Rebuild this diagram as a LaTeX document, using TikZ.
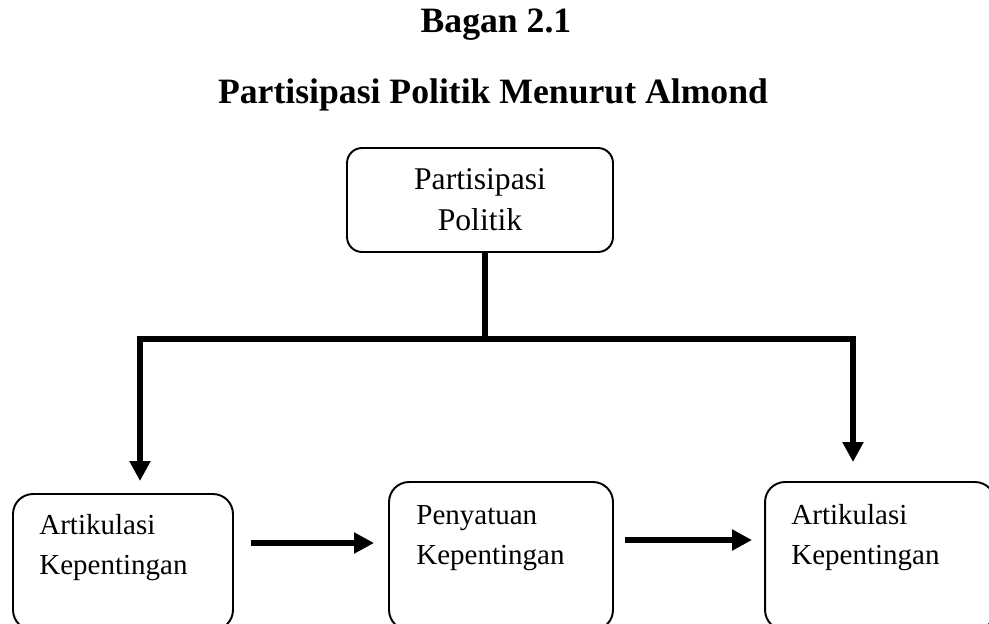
\documentclass[tikz,border=0pt]{standalone}
\usepackage{fontspec}
\setmainfont{Liberation Serif}
\usetikzlibrary{positioning,calc,arrows.meta}

\begin{document}
\begin{tikzpicture}[x=0.02cm,y=0.02cm,
  title/.style={font=\bfseries\fontsize{20.3}{24}\selectfont, anchor=base, inner sep=0},
  box/.style={draw, line width=1.1pt, rounded corners=0.4cm, minimum width=#1, minimum height=2.96cm, inner sep=0},
  lbl/.style={anchor=north west, align=left, inner sep=0, font=\fontsize{16.5}{23}\selectfont},
  bar/.style={line width=3.4pt},
  flow/.style={line width=3.4pt, -{Triangle[width=0.4cm,length=0.4cm]}}]

\useasboundingbox (0,0) rectangle (989,623);
\clip (0,0) rectangle (989,623);

\node[title] (bagan) at (496,590) {Bagan 2.1};
\node[title] (judul) at (493,520) {Partisipasi Politik Menurut Almond};

% kotak atas
\node[draw, line width=1.1pt, rounded corners=0.3cm, minimum width=5.32cm, minimum height=2.08cm,
      align=center, font=\fontsize{18}{23.3}\selectfont] (pp) at (480,423) {Partisipasi\\Politik};

% kotak bawah
\node[box=4.4cm, minimum height=2.72cm] (artA) at (123,61) {};
\node[box=4.48cm] (peny) at (501,67) {};
\node[box=4.6cm] (artB) at (880,67) {};

\node[lbl] (tA) at ($(artA.north west)+(27,-21)$) {Artikulasi\\Kepentingan};
\node[lbl] (tP) at ($(peny.north west)+(28,-24)$) {Penyatuan\\Kepentingan};
\node[lbl] (tB) at ($(artB.north west)+(27,-23)$) {Artikulasi\\Kepentingan};

\coordinate (jn) at (485,284);
\coordinate (jl) at (140,284);
\coordinate (jr) at (853,284);

\draw[bar] (pp.south -| jn) -- (jn);
\draw[flow, shorten >=0.24cm] (jn) -| (artA.north -| jl);
\draw[flow, shorten >=0.38cm] (jn) -| (artB.north -| jr);

\draw[flow, shorten <=0.34cm, shorten >=0.28cm] ($(artA.east)+(0,19)$) -- ($(peny.west)+(0,13)$);
\draw[flow, shorten <=0.22cm, shorten >=0.24cm] ($(peny.east)+(0,16)$) -- ($(artB.west)+(0,16)$);
\end{tikzpicture}
\end{document}
